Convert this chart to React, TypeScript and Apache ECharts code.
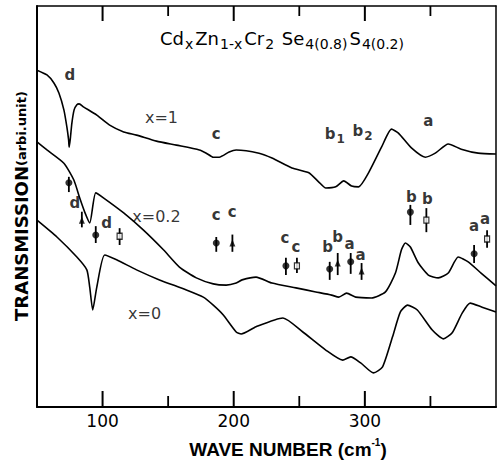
import React, { useEffect, useRef } from "react";
import * as echarts from "echarts";

const FONT = '"DejaVu Sans", "Liberation Sans", sans-serif';
const FONT_N = '"Liberation Sans", "DejaVu Sans", sans-serif';

// wave number (cm^-1), transmission (arbitrary units, 0..100)
const curveX1: [number, number][] = [
  [50, 84.0], [57.6, 82.8], [62.9, 80.8], [66.7, 78.3], [70.5, 74.1], [72.8, 69.8],
  [74.1, 66.6], [74.5, 64.8], [75.3, 66.6], [76.6, 70.8], [78.3, 74.1], [80.4, 75.4],
  [82.1, 75.6], [85.7, 74.8], [95.6, 72.8], [105.4, 70.3], [116.1, 68.6], [125.9, 67.8],
  [141.1, 66.3], [156.3, 65.3], [173.8, 64.1], [179.1, 63.3], [184.4, 62.3], [189.0, 62.3],
  [196.5, 63.6], [201.9, 64.1], [219.3, 63.3], [229.2, 62.1], [244.4, 59.6], [257.3, 58.4],
  [264.9, 56.1], [270.2, 54.6], [277.8, 54.9], [283.9, 56.4], [289.9, 55.1], [295.2, 54.9],
  [302.8, 58.4], [312.7, 64.8], [320.3, 69.3], [325.6, 68.3], [335.5, 64.6], [346.1, 62.3],
  [353.7, 63.3], [363.6, 65.6], [373.5, 64.3], [386.4, 63.3], [400, 63.1],
];

const curveX02: [number, number][] = [
  [50, 66.1], [57.6, 64.1], [70.5, 60.8], [78.1, 56.6], [82.6, 52.1], [86.4, 48.6],
  [90.2, 45.9], [94.8, 53.4], [100.9, 52.1], [116.1, 48.4], [131.2, 44.1], [146.4, 39.2],
  [158.6, 34.9], [171.5, 32.2], [184.4, 30.7], [194.3, 30.4], [201.9, 30.9], [206.4, 31.7],
  [217.0, 32.4], [229.2, 30.9], [247.4, 29.7], [262.6, 28.7], [274.7, 27.9], [280.1, 27.4],
  [286.1, 28.4], [293.0, 27.4], [305.1, 27.2], [315.7, 28.7], [323.3, 33.4], [327.9, 39.2],
  [330.9, 40.9], [334.7, 39.9], [340.8, 35.9], [348.4, 32.9], [356.0, 32.2], [363.6, 33.4],
  [371.2, 37.4], [378.8, 36.2], [388.6, 33.4], [400, 30.2],
];

const curveX0: [number, number][] = [
  [50, 46.6], [65.2, 42.4], [80.4, 37.4], [88.0, 34.2], [90.2, 29.9], [92.5, 24.2],
  [95.6, 29.9], [101.6, 37.9], [110.7, 36.7], [125.9, 34.2], [143.4, 31.7], [163.9, 29.2],
  [176.8, 27.4], [184.4, 25.4], [191.9, 23.0], [201.9, 18.7], [205.7, 18.2], [217.0, 20.0],
  [237.5, 22.2], [252.7, 18.7], [270.2, 14.2], [283.1, 11.7], [289.2, 12.5], [296.8, 11.0],
  [306.6, 8.5], [313.5, 10.0], [321.1, 17.5], [327.1, 23.7], [332.5, 25.4], [340.0, 24.2],
  [351.4, 19.2], [359.8, 17.0], [366.6, 18.5], [374.2, 23.4], [380.3, 25.9], [389.4, 24.9],
  [400, 23.7],
];

// [wave number, value, error low, error high]
const filledCircles: [number, number, number, number][] = [
  [74.3, 55.9, 53.6, 57.4], [94.8, 42.9, 40.9, 45.1], [186.7, 40.9, 38.7, 42.4],
  [239.8, 35.2, 32.9, 37.2], [273.2, 34.4, 31.7, 36.2], [289.2, 36.2, 33.2, 38.4],
  [334.7, 48.6, 45.4, 50.4], [383.3, 38.2, 35.9, 40.4],
];
const triangles: [number, number, number, number][] = [
  [84.2, 46.6, 44.8, 48.7], [199.0, 40.9, 38.7, 43.0],
  [279.3, 35.9, 32.9, 38.4], [297.5, 33.9, 31.7, 35.9],
];
const openSquares: [number, number, number, number][] = [
  [113.0, 42.6, 40.4, 44.6], [248.2, 35.2, 33.4, 37.2],
  [346.9, 46.6, 43.6, 49.6], [393.2, 41.9, 39.7, 44.1],
];

// band labels [wave number, value, text]
const letterLabels: [number, number, string][] = [
  [75.1, 82.8, "d"], [186.7, 68.1, "c"], [277.0, 67.6, "{m|b}{s|1}"], [298.3, 68.4, "{m|b}{s|2}"],
  [348.4, 71.3, "a"], [78.9, 50.9, "d"], [103.1, 45.9, "d"], [186.7, 47.9, "c"],
  [198.8, 48.6, "c"], [239.1, 42.1, "c"], [247.4, 39.9, "c"], [271.7, 39.9, "b"],
  [279.3, 42.4, "b"], [288.4, 40.6, "a"], [296.8, 37.9, "a"], [335.5, 52.4, "b"],
  [347.6, 51.9, "b"], [383.3, 45.1, "a"], [391.7, 46.9, "a"],
];
const compositionLabels: [number, number, string][] = [
  [144.9, 72.1, "x=1"], [141.1, 47.6, "x=0.2"], [132.0, 23.4, "x=0"],
];

const majorTicks = [100, 200, 300];
const minorTicks = [150, 250, 350];
const xMin = 50;
const xMax = 400;
const xStep = 50;
const yMin = 0;
const yMax = 100;

const titleText =
  "{n|Cd}{s|x}{n|Zn}{s|1-x}{n|Cr}{s|2}{n| Se}{s|4(0.8)}{n|S}{s|4(0.2)}";

const GRID = { left: 37, right: 1, top: 6, bottom: 56 };
const CHART_W = 499;
const CHART_H = 463;

export default function App() {
  const ref = useRef<HTMLDivElement>(null);

  useEffect(() => {
    if (!ref.current) return;
    const chart = echarts.init(ref.current, undefined, { renderer: "svg" });

    const errorData = [...filledCircles, ...triangles, ...openSquares];
    const black = "#000";

    const lineSeries = (data: [number, number][], name: string) => ({
      type: "line",
      name,
      data,
      xAxisIndex: 0,
      yAxisIndex: 0,
      showSymbol: false,
      symbol: "none",
      smooth: 0.2,
      silent: true,
      lineStyle: { color: black, width: 1.6 },
      z: 3,
    });

    const textGraphics: any[] = [
      {
        id: "ylabel",
        type: "text",
        x: 21,
        y: 206,
        rotation: Math.PI / 2,
        style: {
          text: "{a|TRANSMISSION}{b|(arbi.unit)}",
          align: "center",
          verticalAlign: "middle",
          rich: {
            a: { fontSize: 18, fontWeight: "bold", fontFamily: FONT, fill: black, color: black },
            b: { fontSize: 13, fontWeight: "bold", fontFamily: FONT, fill: black, color: black },
          },
        },
      },
      {
        id: "xlabel",
        type: "text",
        x: 288,
        y: 448,
        style: {
          text: "{t|WAVE NUMBER (cm}{p|-1}{t|)}",
          align: "center",
          verticalAlign: "middle",
          rich: {
            t: { fontSize: 19, fontWeight: "bold", fontFamily: FONT_N, fill: black, color: black, lineHeight: 22, verticalAlign: "bottom" },
            p: { fontSize: 10, fontWeight: "bold", fontFamily: FONT_N, fill: black, color: black, lineHeight: 12, verticalAlign: "top" },
          },
        },
      },
    ];

    chart.setOption({
      animation: false,
      backgroundColor: "#fff",
      title: {
        text: titleText,
        left: 160,
        top: 29,
        padding: 0,
        textStyle: {
          fontWeight: "normal",
          rich: {
            n: { fontSize: 18, fontWeight: "normal", fontFamily: FONT, color: black, lineHeight: 22, verticalAlign: "top" },
            s: {
              fontSize: 14,
              fontWeight: "normal",
              fontFamily: FONT,
              color: black,
              lineHeight: 16,
              verticalAlign: "bottom",
              padding: [15, 2, 0, 1],
            },
          },
        },
      },
      grid: { ...GRID, containLabel: false },
      xAxis: [
        {
          type: "value",
          min: xMin,
          max: xMax,
          interval: xStep,
          position: "bottom",
          splitLine: { show: false },
          axisLine: { show: true, onZero: false, lineStyle: { color: black, width: 2 } },
          axisTick: { show: false },
          axisLabel: {
            show: true,
            color: black,
            fontSize: 17,
            fontFamily: FONT,
            margin: 5,
            formatter: (v: number) => (majorTicks.indexOf(v) >= 0 ? String(v) : ""),
          },
        },
        {
          type: "value",
          min: xMin,
          max: xMax,
          interval: xStep,
          position: "top",
          splitLine: { show: false },
          axisLine: { show: true, onZero: false, lineStyle: { color: black, width: 1.5 } },
          axisTick: { show: false },
          axisLabel: { show: false },
        },
      ],
      yAxis: [
        {
          type: "value",
          min: yMin,
          max: yMax,
          position: "left",
          axisLine: { show: true, onZero: false, lineStyle: { color: black, width: 2 } },
          axisTick: { show: false },
          axisLabel: { show: false },
          splitLine: { show: false },
        },
        {
          type: "value",
          min: yMin,
          max: yMax,
          position: "right",
          axisLine: { show: true, onZero: false, lineStyle: { color: black, width: 1.5 } },
          axisTick: { show: false },
          axisLabel: { show: false },
          splitLine: { show: false },
        },
      ],
      graphic: textGraphics,
      series: [
        lineSeries(curveX1, "x=1"),
        lineSeries(curveX02, "x=0.2"),
        lineSeries(curveX0, "x=0"),
        {
          type: "custom",
          name: "error bars",
          xAxisIndex: 0,
          yAxisIndex: 0,
          silent: true,
          z: 4,
          data: errorData,
          encode: { x: 0, y: [1, 2, 3] },
          renderItem: (_params: any, api: any) => {
            const x = api.value(0);
            const p1 = api.coord([x, api.value(2)]);
            const p2 = api.coord([x, api.value(3)]);
            return {
              type: "line",
              shape: { x1: p1[0], y1: p1[1], x2: p2[0], y2: p2[1] },
              style: { stroke: black, lineWidth: 1.8 },
            };
          },
        },
        {
          type: "scatter",
          name: "filled",
          xAxisIndex: 0,
          yAxisIndex: 0,
          symbol: "circle",
          symbolSize: 7,
          itemStyle: { color: black },
          z: 5,
          data: filledCircles.map((d) => [d[0], d[1]]),
        },
        {
          type: "scatter",
          name: "triangles",
          xAxisIndex: 0,
          yAxisIndex: 0,
          symbol: "triangle",
          symbolSize: [6, 7],
          itemStyle: { color: black },
          z: 5,
          data: triangles.map((d) => [d[0], d[1]]),
        },
        {
          type: "scatter",
          name: "open",
          xAxisIndex: 0,
          yAxisIndex: 0,
          symbol: "rect",
          symbolSize: [5, 6],
          itemStyle: { color: "#fff", borderColor: black, borderWidth: 1.3 },
          z: 6,
          data: openSquares.map((d) => [d[0], d[1]]),
        },
        {
          type: "scatter",
          name: "band labels",
          xAxisIndex: 0,
          yAxisIndex: 0,
          symbolSize: 1,
          silent: true,
          itemStyle: { color: "rgba(0,0,0,0)" },
          z: 7,
          data: letterLabels.map((d) => ({ value: [d[0], d[1]], name: d[2] })),
          label: {
            show: true,
            position: "inside",
            color: black,
            fontFamily: FONT,
            fontSize: 15,
            fontWeight: "bold",
            formatter: (p: any) => p.name,
            rich: {
              m: { fontSize: 15, fontWeight: "bold", fontFamily: FONT, color: black, lineHeight: 18, verticalAlign: "top" },
              s: { fontSize: 12, fontWeight: "bold", fontFamily: FONT, color: black, lineHeight: 14, verticalAlign: "bottom", padding: [11, 0, 0, 1] },
            },
          },
        },
        {
          type: "scatter",
          name: "composition labels",
          xAxisIndex: 0,
          yAxisIndex: 0,
          symbolSize: 1,
          silent: true,
          itemStyle: { color: "rgba(0,0,0,0)" },
          z: 7,
          data: compositionLabels.map((d) => ({ value: [d[0], d[1]], name: d[2] })),
          label: {
            show: true,
            position: "inside",
            color: black,
            fontFamily: FONT,
            fontSize: 16,
            formatter: (p: any) => p.name,
          },
        },
      ],
    });

    // axis ticks as thin filled rectangles, x placed through the x-axis scale
    const plotW = CHART_W - GRID.left - GRID.right;
    const toPx = (v: number) => {
      const p = chart.convertToPixel({ xAxisIndex: 0 }, v) as any;
      const n = Array.isArray(p) ? p[0] : p;
      return isFinite(n) ? n : GRID.left + ((v - xMin) / (xMax - xMin)) * plotW;
    };
    const bottomY = CHART_H - GRID.bottom;
    const topY = GRID.top;
    const tickEls: any[] = [];
    const addTicks = (vals: number[], lenB: number, lenT: number, w: number, key: string) => {
      vals.forEach((v, i) => {
        const x = toPx(v);
        tickEls.push({
          id: `${key}b${i}`,
          type: "rect",
          z: 100,
          silent: true,
          shape: { x: x - w / 2, y: bottomY - lenB, width: w, height: lenB },
          style: { fill: black },
        });
        tickEls.push({
          id: `${key}t${i}`,
          type: "rect",
          z: 100,
          silent: true,
          shape: { x: x - w / 2, y: topY, width: w, height: lenT },
          style: { fill: black },
        });
      });
    };
    addTicks(majorTicks, 16, 15, 2, "maj");
    addTicks(minorTicks, 11, 10, 1.8, "min");
    chart.setOption({ graphic: [...textGraphics, ...tickEls] });

    return () => chart.dispose();
  }, []);

  return (
    <div
      ref={ref}
      style={{ position: "fixed", left: 0, top: 0, width: CHART_W, height: CHART_H, background: "#fff" }}
    />
  );
}
